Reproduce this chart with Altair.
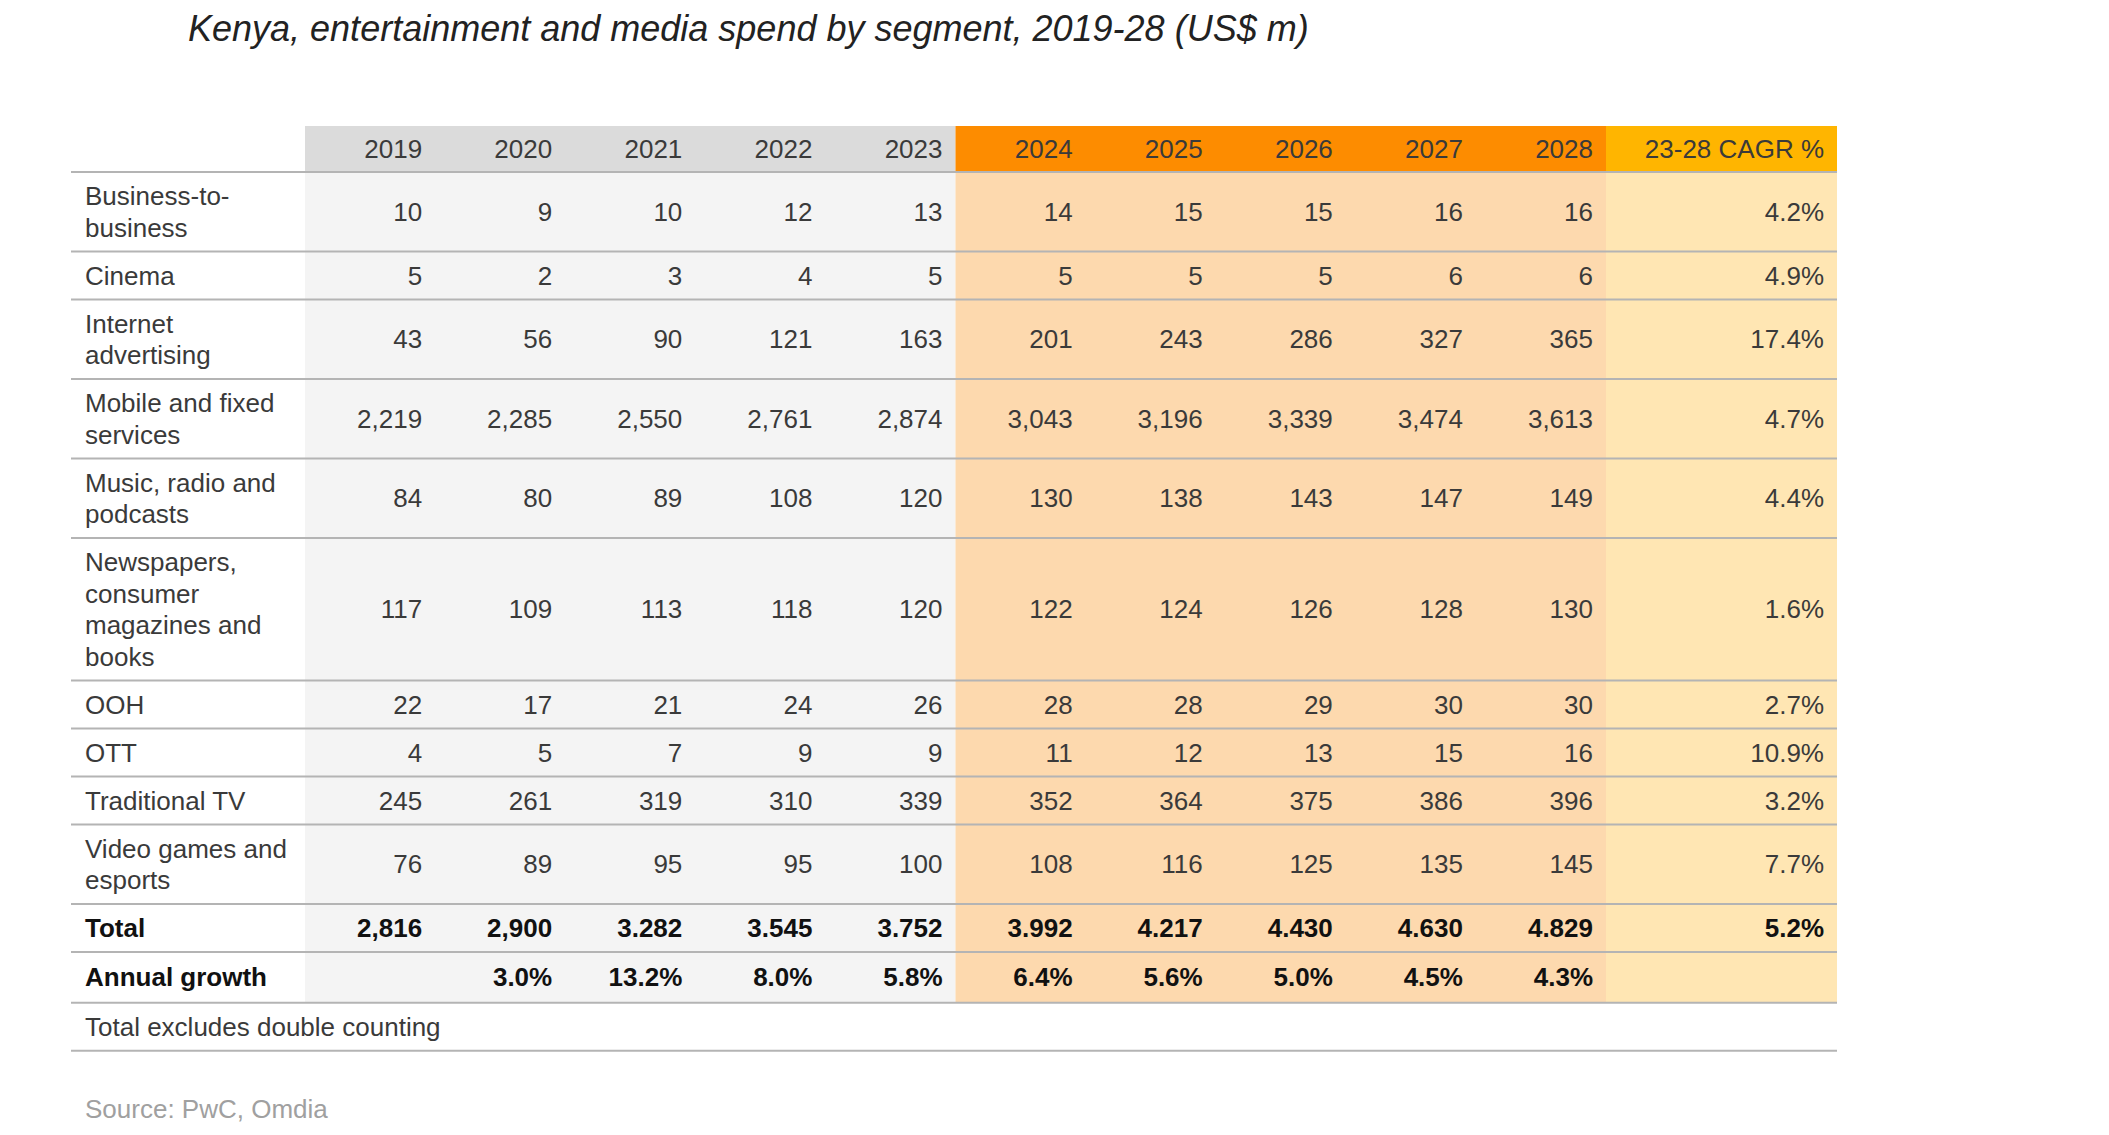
import altair as alt
import pandas as pd

# ---------------- data ----------------
title = "Kenya, entertainment and media spend by segment, 2019-28 (US$ m)"
years = ["2019", "2020", "2021", "2022", "2023", "2024", "2025", "2026", "2027", "2028"]
cagr_header = "23-28 CAGR %"
segments = [
    ["Business-to-", "business"],
    ["Cinema"],
    ["Internet", "advertising"],
    ["Mobile and fixed", "services"],
    ["Music, radio and", "podcasts"],
    ["Newspapers,", "consumer", "magazines and", "books"],
    ["OOH"],
    ["OTT"],
    ["Traditional TV"],
    ["Video games and", "esports"],
]
seg_values = [
    [10, 9, 10, 12, 13, 14, 15, 15, 16, 16],
    [5, 2, 3, 4, 5, 5, 5, 5, 6, 6],
    [43, 56, 90, 121, 163, 201, 243, 286, 327, 365],
    [2219, 2285, 2550, 2761, 2874, 3043, 3196, 3339, 3474, 3613],
    [84, 80, 89, 108, 120, 130, 138, 143, 147, 149],
    [117, 109, 113, 118, 120, 122, 124, 126, 128, 130],
    [22, 17, 21, 24, 26, 28, 28, 29, 30, 30],
    [4, 5, 7, 9, 9, 11, 12, 13, 15, 16],
    [245, 261, 319, 310, 339, 352, 364, 375, 386, 396],
    [76, 89, 95, 95, 100, 108, 116, 125, 135, 145],
]
seg_cagr = ["4.2%", "4.9%", "17.4%", "4.7%", "4.4%", "1.6%", "2.7%", "10.9%", "3.2%", "7.7%"]
total_label = "Total"
total_values = ["2,816", "2,900", "3.282", "3.545", "3.752", "3.992", "4.217", "4.430", "4.630", "4.829"]
total_cagr = "5.2%"
growth_label = "Annual growth"
growth_values = ["", "3.0%", "13.2%", "8.0%", "5.8%", "6.4%", "5.6%", "5.0%", "4.5%", "4.3%"]
footnote = "Total excludes double counting"
source = "Source: PwC, Omdia"

# ---------------- layout (chart pixel units) ----------------
W, H = 2093, 1119
TABLE_X0 = 63
LABEL_X = 77
COL_X0 = 297
COL_W = 130.1
N_HIST = 5
CAGR_X1 = 1829
TEXT_PAD = 13
HEADER_Y0, HEADER_Y1 = 118, 164
LINE_H = 31.5
PAD = 8.25
FS = 26
FONT = "Liberation Sans"
TEXT_DY = 1

C_HDR_GRAY = "#dbdbdb"
C_BODY_GRAY = "#f4f4f4"
C_HDR_ORANGE = "#fd8c00"
C_BODY_ORANGE = "#fdd9ae"
C_HDR_CAGR = "#ffb500"
C_BODY_CAGR = "#ffe6b3"
C_LINE = "#b4b4b4"
C_TEXT = "#3a3a3a"

ncols = len(years)
orange_x0 = COL_X0 + N_HIST * COL_W
cagr_x0 = COL_X0 + ncols * COL_W


def col_right(i):
    return COL_X0 + (i + 1) * COL_W - TEXT_PAD


# rows of table body
rows = []
for lab, vals, cg in zip(segments, seg_values, seg_cagr):
    rows.append(dict(lines=lab, cells=[f"{v:,}" for v in vals] + [cg], bold=False, extra=0))
rows.append(dict(lines=[total_label], cells=total_values + [total_cagr], bold=True, extra=0))
rows.append(dict(lines=[growth_label], cells=growth_values + [""], bold=True, extra=2.7))
rows.append(dict(lines=[footnote], cells=[], bold=False, extra=0))

y = HEADER_Y1
label_recs, cell_recs, rule_recs = [], [], []
rule_recs.append(dict(x=TABLE_X0, x2=CAGR_X1, y=HEADER_Y1))
for r in rows:
    h = len(r["lines"]) * LINE_H + 2 * PAD + r["extra"]
    yc = y + h / 2
    for k, ln in enumerate(r["lines"]):
        ly = yc + (k - (len(r["lines"]) - 1) / 2) * LINE_H
        label_recs.append(dict(x=LABEL_X, y=ly, text=ln, bold=r["bold"]))
    for i, c in enumerate(r["cells"]):
        xr = col_right(i) if i < ncols else CAGR_X1 - TEXT_PAD
        cell_recs.append(dict(x=xr, y=yc, text=c, bold=r["bold"]))
    y += h
    rule_recs.append(dict(x=TABLE_X0, x2=CAGR_X1, y=y))
body_y1 = rule_recs[-2]["y"]  # shading ends at bottom of annual growth row

rect_recs = [
    dict(x=COL_X0, x2=orange_x0, y=HEADER_Y0, y2=HEADER_Y1, fill=C_HDR_GRAY),
    dict(x=orange_x0, x2=cagr_x0, y=HEADER_Y0, y2=HEADER_Y1, fill=C_HDR_ORANGE),
    dict(x=cagr_x0, x2=CAGR_X1, y=HEADER_Y0, y2=HEADER_Y1, fill=C_HDR_CAGR),
    dict(x=COL_X0, x2=orange_x0, y=HEADER_Y1, y2=body_y1, fill=C_BODY_GRAY),
    dict(x=orange_x0, x2=cagr_x0, y=HEADER_Y1, y2=body_y1, fill=C_BODY_ORANGE),
    dict(x=cagr_x0, x2=CAGR_X1, y=HEADER_Y1, y2=body_y1, fill=C_BODY_CAGR),
]

hy = (HEADER_Y0 + HEADER_Y1) / 2
header_recs = [dict(x=col_right(i), y=hy, text=t) for i, t in enumerate(years)]
header_recs.append(dict(x=CAGR_X1 - TEXT_PAD, y=hy, text=cagr_header))

label_df = pd.DataFrame(label_recs)
cell_df = pd.DataFrame(cell_recs)

xs = alt.Scale(domain=[0, W], nice=False, zero=False)
ys = alt.Scale(domain=[0, H], nice=False, zero=False, reverse=True)
X = lambda f="x": alt.X(f"{f}:Q", scale=xs, axis=None)
Y = lambda f="y": alt.Y(f"{f}:Q", scale=ys, axis=None)

rects = alt.Chart(pd.DataFrame(rect_recs)).mark_rect().encode(
    x=X(), x2="x2:Q", y=Y(), y2="y2:Q", color=alt.Color("fill:N", scale=None)
)
rules = alt.Chart(pd.DataFrame(rule_recs)).mark_rule(color=C_LINE, strokeWidth=2).encode(
    x=X(), x2="x2:Q", y=Y()
)
header = alt.Chart(pd.DataFrame(header_recs)).mark_text(
    align="right", baseline="middle", font=FONT, fontSize=FS, color=C_TEXT, dy=TEXT_DY
).encode(x=X(), y=Y(), text="text:N")

labels_n = alt.Chart(label_df[~label_df.bold]).mark_text(
    align="left", baseline="middle", font=FONT, fontSize=FS, color=C_TEXT, dy=TEXT_DY
).encode(x=X(), y=Y(), text="text:N")
labels_b = alt.Chart(label_df[label_df.bold]).mark_text(
    align="left", baseline="middle", font=FONT, fontSize=FS, fontWeight="bold", color="#111111", dy=TEXT_DY
).encode(x=X(), y=Y(), text="text:N")
cells_n = alt.Chart(cell_df[~cell_df.bold]).mark_text(
    align="right", baseline="middle", font=FONT, fontSize=FS, color=C_TEXT, dy=TEXT_DY
).encode(x=X(), y=Y(), text="text:N")
cells_b = alt.Chart(cell_df[cell_df.bold]).mark_text(
    align="right", baseline="middle", font=FONT, fontSize=FS, fontWeight="bold", color="#111111", dy=TEXT_DY
).encode(x=X(), y=Y(), text="text:N")

title_t = alt.Chart(pd.DataFrame([dict(x=180, y=33, text=title)])).mark_text(
    align="left", baseline="alphabetic", font=FONT, fontSize=36, fontStyle="italic", color="#222222"
).encode(x=X(), y=Y(), text="text:N")
source_t = alt.Chart(pd.DataFrame([dict(x=LABEL_X, y=1101, text=source)])).mark_text(
    align="left", baseline="middle", font=FONT, fontSize=FS, color="#a0a0a0", dy=TEXT_DY
).encode(x=X(), y=Y(), text="text:N")

chart = alt.layer(
    rects, rules, header, labels_n, labels_b, cells_n, cells_b, title_t, source_t
).properties(
    width=W, height=H, padding=0, autosize=alt.AutoSizeParams(type="none")
).configure_view(stroke=None)

chart.save("out.html", embed_options={"renderer": "svg", "actions": False})
